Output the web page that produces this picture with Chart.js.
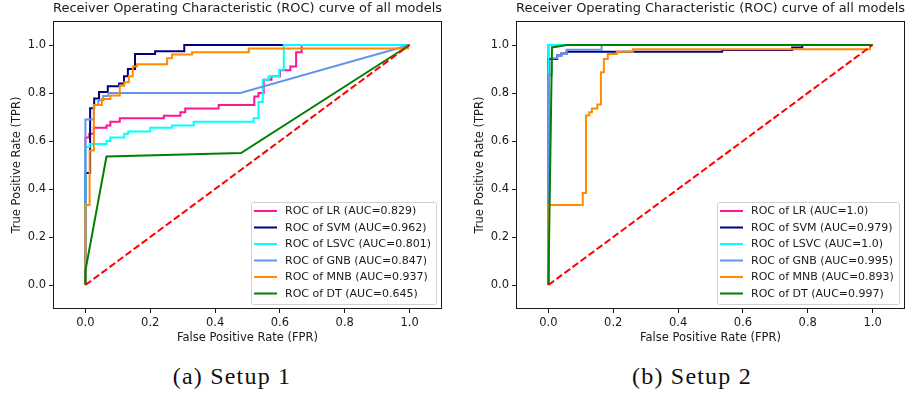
<!DOCTYPE html>
<html>
<head>
<meta charset="utf-8">
<script src="https://cdn.jsdelivr.net/npm/chart.js@4.4.0/dist/chart.umd.min.js"></script>
<style>
  html, body { margin: 0; padding: 0; background: #fff; }
  body { width: 906px; height: 396px; position: relative; overflow: hidden; }
  .panel { position: absolute; top: 0; width: 453px; height: 350px; }
  .caption { position: absolute; top: 363px; width: 300px; text-align: center;
             font-family: "Liberation Serif", serif; font-size: 24px; letter-spacing: 1.2px; color: #111; }
</style>
</head>
<body>
<div class="panel" style="left:0"><canvas id="roc1"></canvas></div>
<div class="panel" style="left:463px"><canvas id="roc2"></canvas></div>
<div class="caption" style="left:82px">(a) Setup 1</div>
<div class="caption" style="left:542px">(b) Setup 2</div>
<script>
// texts
var chartTitle = 'Receiver Operating Characteristic (ROC) curve of all models';
var xLabel = 'False Positive Rate (FPR)';
var yLabel = 'True Positive Rate (TPR)';
var tickValues = [0, 0.2, 0.4, 0.6, 0.8, 1.0];
var models = ['LR', 'SVM', 'LSVC', 'GNB', 'MNB', 'DT'];
var colors = ['#ff1493', '#000080', '#00ffff', '#6495ed', '#ff8c00', '#008000'];

// Setup 1
var auc1 = ['0.829', '0.962', '0.801', '0.847', '0.937', '0.645'];
var lrFpr1 = [0,0,0.012,0.012,0.026,0.026,0.065,0.065,0.077,0.077,0.106,0.106,0.242,0.242,0.293,0.293,0.308,0.308,0.411,0.411,0.521,0.521,0.534,0.534,0.55,0.55,0.574,0.574,0.6,0.6,0.632,0.632,0.65,0.65,0.667,0.667,1];
var lrTpr1 = [0,0.615,0.615,0.63,0.63,0.655,0.655,0.665,0.665,0.68,0.68,0.695,0.695,0.705,0.705,0.72,0.72,0.735,0.735,0.75,0.75,0.785,0.785,0.80,0.80,0.855,0.855,0.87,0.87,0.895,0.895,0.91,0.91,0.97,0.97,1,1];
var svmFpr1 = [0,0,0.0145,0.0145,0.027,0.027,0.042,0.042,0.069,0.069,0.104,0.104,0.119,0.119,0.131,0.131,0.153,0.153,0.215,0.215,0.305,0.305,1];
var svmTpr1 = [0,0.467,0.467,0.736,0.736,0.777,0.777,0.804,0.804,0.828,0.828,0.84,0.84,0.87,0.87,0.90,0.90,0.963,0.963,0.974,0.974,1,1];
var lsvcFpr1 = [0,0,0.013,0.013,0.065,0.065,0.077,0.077,0.12,0.12,0.132,0.132,0.2,0.2,0.267,0.267,0.334,0.334,0.519,0.519,0.534,0.534,0.547,0.547,0.565,0.565,0.598,0.598,0.612,0.612,1];
var lsvcTpr1 = [0,0.575,0.575,0.588,0.588,0.60,0.60,0.615,0.615,0.63,0.63,0.64,0.64,0.655,0.655,0.665,0.665,0.68,0.68,0.695,0.695,0.763,0.763,0.855,0.855,0.87,0.87,0.897,0.897,1,1];
var gnbFpr1 = [0,0,0.026,0.026,0.04,0.04,0.055,0.055,0.071,0.071,0.478,1];
var gnbTpr1 = [0,0.69,0.69,0.75,0.75,0.77,0.77,0.787,0.787,0.80,0.80,1];
var mnbFpr1 = [0,0,0.013,0.013,0.026,0.026,0.051,0.051,0.077,0.077,0.106,0.106,0.12,0.12,0.134,0.134,0.146,0.146,0.159,0.159,0.252,0.252,0.267,0.267,0.329,0.329,0.504,0.504,0.995,0.995,1];
var mnbTpr1 = [0,0.333,0.333,0.56,0.56,0.75,0.75,0.775,0.775,0.79,0.79,0.83,0.83,0.845,0.845,0.87,0.87,0.91,0.91,0.92,0.92,0.945,0.945,0.96,0.96,0.97,0.97,0.985,0.985,1,1];
var dtFpr1 = [0,0,0.065,0.48,1];
var dtTpr1 = [0,0.06,0.535,0.55,1];

// Setup 2
var auc2 = ['1.0', '0.979', '1.0', '0.995', '0.893', '0.997'];
var lrFpr2 = [0,0,1];
var lrTpr2 = [0,1,1];
var svmFpr2 = [0,0,0.027,0.027,0.04,0.04,0.056,0.056,0.536,0.536,0.752,0.752,0.783,0.783,1];
var svmTpr2 = [0,0.942,0.942,0.956,0.956,0.965,0.965,0.972,0.972,0.979,0.979,0.99,0.99,1,1];
var lsvcFpr2 = [0,0,1];
var lsvcTpr2 = [0,1,1];
var gnbFpr2 = [0,0,0.01,0.01,0.027,0.027,0.04,0.04,0.056,0.056,0.164,0.164,1];
var gnbTpr2 = [0,0.875,0.875,0.945,0.945,0.955,0.955,0.965,0.965,0.98,0.98,1,1];
var mnbFpr2 = [0,0,0.106,0.106,0.116,0.116,0.126,0.126,0.134,0.134,0.151,0.151,0.162,0.162,0.171,0.171,0.183,0.183,0.211,0.211,0.261,0.261,0.992,0.992,1];
var mnbTpr2 = [0,0.333,0.333,0.383,0.383,0.706,0.706,0.72,0.72,0.735,0.735,0.752,0.752,0.886,0.886,0.942,0.942,0.963,0.963,0.972,0.972,0.982,0.982,1,1];
var dtFpr2 = [0,0.011,0.057,1];
var dtTpr2 = [0,0.99,1,1];

// chance line
var diagX = [0, 1];
var diagY = [0, 1];

var textColor = '#1a1a1a';
var sansFont = 'DejaVu Sans';

function toPoints(xs, ys) {
    return xs.map(function (x, i) { return { x: x, y: ys[i] }; });
}

// frame around the plot area (matplotlib spines)
var framePlugin = {
    id: 'frame',
    afterDatasetsDraw: function (chart) {
        var a = chart.chartArea, ctx = chart.ctx;
        ctx.save();
        ctx.strokeStyle = textColor;
        ctx.lineWidth = 1;
        ctx.strokeRect(Math.round(a.left) + 0.5, Math.round(a.top) + 0.5,
            Math.round(a.right - a.left) - 1, Math.round(a.bottom - a.top) - 1);
        ctx.restore();
    }
};

// legend box in the lower right corner
var boxLegend = {
    id: 'boxLegend',
    afterDraw: function (chart) {
        var a = chart.chartArea, ctx = chart.ctx;
        var sets = chart.data.datasets.filter(function (d) { return d.label; });
        ctx.save();
        ctx.font = '11px "' + sansFont + '"';
        var w = Math.max.apply(null, sets.map(function (d) { return ctx.measureText(d.label).width; }));
        var rowH = 16.5;
        var bw = Math.round(3 + 23 + 8 + w + 5);
        var bh = Math.round(9 + rowH * (sets.length - 1) + 10);
        var x0 = Math.round(a.right - 6 - bw), y0 = Math.round(a.bottom - 5 - bh);
        ctx.fillStyle = 'rgba(255,255,255,0.8)';
        ctx.strokeStyle = '#d0d0d0';
        ctx.lineWidth = 1;
        ctx.beginPath();
        ctx.roundRect(x0 + 0.5, y0 + 0.5, bw, bh, 2);
        ctx.fill();
        ctx.stroke();
        ctx.textBaseline = 'middle';
        sets.forEach(function (d, i) {
            var y = y0 + 9 + i * rowH;
            ctx.strokeStyle = d.borderColor;
            ctx.lineWidth = 2;
            ctx.beginPath();
            ctx.moveTo(x0 + 3, y);
            ctx.lineTo(x0 + 26, y);
            ctx.stroke();
            ctx.fillStyle = textColor;
            ctx.fillText(d.label, x0 + 34, y + 0.5);
        });
        ctx.restore();
    }
};

function makeChart(id, series, aucs) {
    var datasets = series.map(function (s, i) {
        return {
            label: 'ROC of ' + models[i] + ' (AUC=' + aucs[i] + ')',
            data: toPoints(s[0], s[1]),
            borderColor: colors[i],
            borderWidth: 2,
            order: series.length - i  // later series on top, like matplotlib
        };
    });
    datasets.push({
        label: '',
        data: toPoints(diagX, diagY),
        borderColor: '#ff0000',
        borderWidth: 2,
        borderDash: [7, 3],
        order: 0
    });

    var axisFont = { family: sansFont, size: 11.5 };
    var titleFont = { family: sansFont, size: 11.5 };

    return new Chart(document.getElementById(id), {
        type: 'scatter',
        data: { datasets: datasets },
        options: {
            responsive: true,
            maintainAspectRatio: false,
            animation: false,
            showLine: true,
            elements: { point: { radius: 0, hoverRadius: 0 }, line: { tension: 0 } },
            layout: { padding: { left: 1, right: 11, top: 1, bottom: 1 } },
            plugins: {
                legend: { display: false },
                tooltip: { enabled: false },
                title: {
                    display: true,
                    text: chartTitle,
                    fullSize: false,
                    color: textColor,
                    font: { family: sansFont, size: 13, weight: 'normal' },
                    padding: { top: 0, bottom: 4.4 }
                }
            },
            scales: {
                x: {
                    type: 'linear', min: -0.1, max: 1.1,
                    afterBuildTicks: function (s) { s.ticks = tickValues.map(function (v) { return { value: v }; }); },
                    afterFit: function (s) { s.height = 40; },
                    ticks: {
                        callback: function (v) { return v.toFixed(1); },
                        font: axisFont, color: textColor, padding: 3, maxRotation: 0, autoSkip: false
                    },
                    grid: { display: true, drawOnChartArea: false, drawTicks: true, tickLength: 4, color: textColor },
                    border: { display: false },
                    title: { display: true, text: xLabel, font: titleFont, color: textColor, padding: { top: 0, bottom: 4.1 } }
                },
                y: {
                    type: 'linear', min: -0.1, max: 1.1,
                    afterBuildTicks: function (s) { s.ticks = tickValues.map(function (v) { return { value: v }; }); },
                    afterFit: function (s) { s.width = 52; },
                    ticks: {
                        callback: function (v) { return v.toFixed(1); },
                        font: axisFont, color: textColor, padding: 3, autoSkip: false
                    },
                    grid: { display: true, drawOnChartArea: false, drawTicks: true, tickLength: 4, color: textColor },
                    border: { display: false },
                    title: { display: true, text: yLabel, font: titleFont, color: textColor, padding: { top: 9, bottom: 0 } }
                }
            }
        },
        plugins: [framePlugin, boxLegend]
    });
}

makeChart('roc1', [
    [lrFpr1, lrTpr1], [svmFpr1, svmTpr1], [lsvcFpr1, lsvcTpr1],
    [gnbFpr1, gnbTpr1], [mnbFpr1, mnbTpr1], [dtFpr1, dtTpr1]
], auc1);

makeChart('roc2', [
    [lrFpr2, lrTpr2], [svmFpr2, svmTpr2], [lsvcFpr2, lsvcTpr2],
    [gnbFpr2, gnbTpr2], [mnbFpr2, mnbTpr2], [dtFpr2, dtTpr2]
], auc2);
</script>
</body>
</html>
